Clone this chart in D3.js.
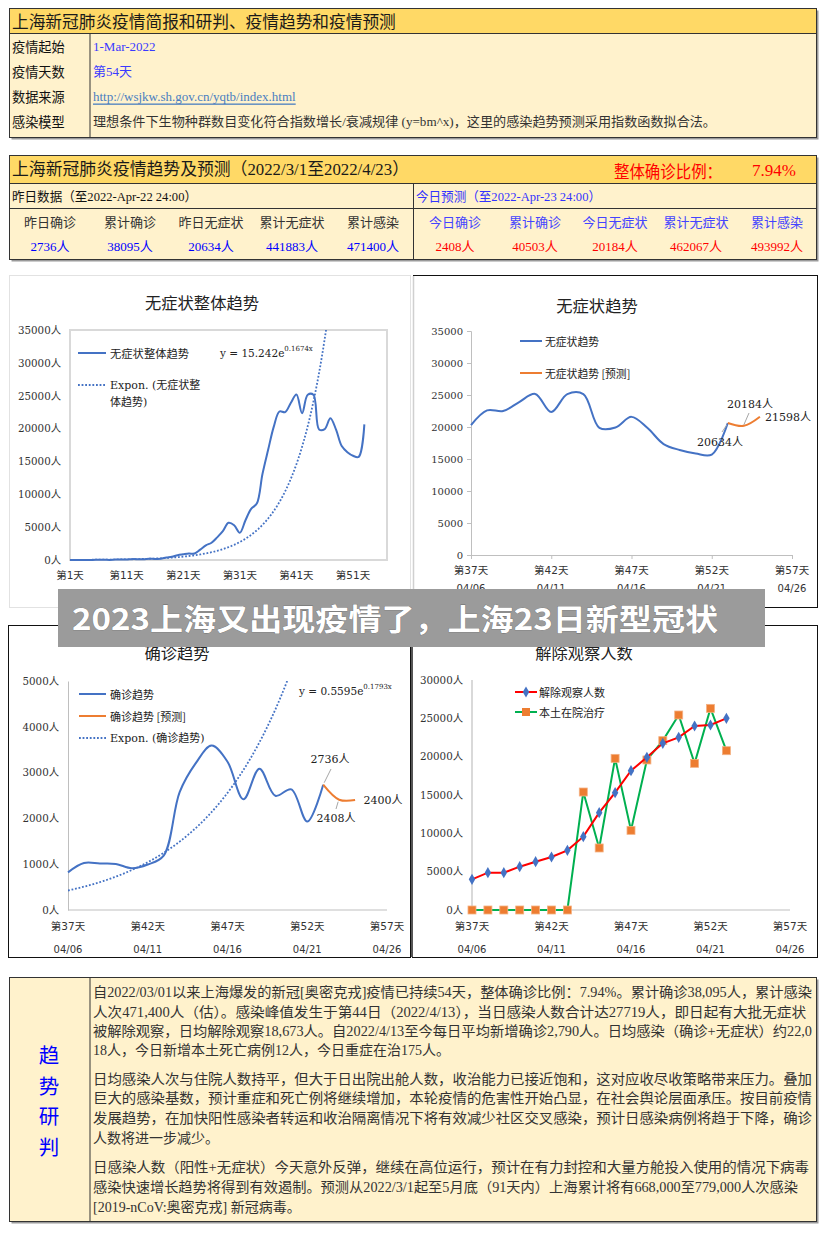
<!DOCTYPE html>
<html><head><meta charset="utf-8">
<script src="https://cdn.jsdelivr.net/npm/d3@7"></script>
<style>body{margin:0;background:#fff}svg{display:block}</style>
</head><body><svg id="c" width="822" height="1236"></svg>
<script>
// ---------------- DATA ----------------
const infoLabels = ["疫情起始","疫情天数","数据来源","感染模型"];
const infoValues = ["1-Mar-2022","第54天","http://wsjkw.sh.gov.cn/yqtb/index.html","理想条件下生物种群数目变化符合指数增长/衰减规律 (y=bm^x)，这里的感染趋势预测采用指数函数拟合法。"];
const yesterdayLabels = ["昨日确诊","累计确诊","昨日无症状","累计无症状","累计感染"];
const yesterdayValues = ["2736人","38095人","20634人","441883人","471400人"];
const todayLabels = ["今日确诊","累计确诊","今日无症状","累计无症状","累计感染"];
const todayValues = ["2408人","40503人","20184人","462067人","493992人"];

// chart 1: asymptomatic, day 1..53
const asymAll = [2,8,5,16,2,45,51,14,62,76,64,130,128,130,197,150,203,366,492,734,865,977,979,1580,2231,2631,3450,4381,5656,5298,4144,6051,7788,8581,13086,16766,20300,22600,22500,23900,25173,22348,25141,25146,19872,19923,21582,19831,17332,16407,15861,15698,20634];
const asymFit = {a:15.242, b:0.1674};
const c1Ticks = [1,11,21,31,41,51];
const c1YTicks = [0,5000,10000,15000,20000,25000,30000,35000];

// chart 2: asymptomatic recent, days 37..53 + forecast days 53..55
const recentDays = [37,38,39,40,41,42,43,44,45,46,47,48,49,50,51,52,53];
const asymRecent = [20300,22600,22500,23900,25173,22348,25141,25146,19872,19923,21582,19831,17332,16407,15861,15698,20634];
const forecastDays = [53,54,55];
const asymForecast = [20634,20184,21598];
const dayTicks = [37,42,47,52,57];
const dateLabels = ["04/06","04/11","04/16","04/21","04/26"];

// chart 3: confirmed
const confRecent = [822,1025,1015,1006,914,994,1189,2573,3200,3590,3238,2417,3084,2494,2634,1931,2736];
const confForecast = [2736,2408,2400];
const confFit = {a:0.5595, b:0.1793};
const c3YTicks = [0,1000,2000,3000,4000,5000];

// chart 4: released / hospitalised
const released = [4000,4870,4870,5650,6300,6910,7780,9565,12700,15300,18170,19910,21740,22520,24000,24130,25000];
const hospital = [0,0,0,0,0,0,0,15390,8090,19780,10390,19570,22090,25435,19130,26300,20780];
const c4YTicks = [0,5000,10000,15000,20000,25000,30000];

const sideChars = ["趋","势","研","判"];
const para1 = ["自2022/03/01以来上海爆发的新冠[奥密克戎]疫情已持续54天，整体确诊比例：7.94%。累计确诊38,095人，累计感染",
"人次471,400人（估）。感染峰值发生于第44日（2022/4/13），当日感染人数合计达27719人，即日起有大批无症状",
"被解除观察，日均解除观察18,673人。自2022/4/13至今每日平均新增确诊2,790人。日均感染（确诊+无症状）约22,0",
"18人，今日新增本土死亡病例12人，今日重症在治175人。"];
const para2 = ["日均感染人次与住院人数持平，但大于日出院出舱人数，收治能力已接近饱和，这对应收尽收策略带来压力。叠加",
"巨大的感染基数，预计重症和死亡例将继续增加，本轮疫情的危害性开始凸显，在社会舆论层面承压。按目前疫情",
"发展趋势，在加快阳性感染者转运和收治隔离情况下将有效减少社区交叉感染，预计日感染病例将趋于下降，确诊",
"人数将进一步减少。"];
const para3 = ["日感染人数（阳性+无症状）今天意外反弹，继续在高位运行，预计在有力封控和大量方舱投入使用的情况下病毒",
"感染快速增长趋势将得到有效遏制。预测从2022/3/1起至5月底（91天内）上海累计将有668,000至779,000人次感染",
"[2019-nCoV:奥密克戎] 新冠病毒。"];

// ---------------- HELPERS ----------------
const svg = d3.select("#c");
const SERIF = "'Liberation Serif','Noto Sans CJK SC',serif";
const AXSERIF = "'DejaVu Serif','Noto Sans CJK SC',serif";
const AXSANS = "'DejaVu Sans','Noto Sans CJK SC',sans-serif";
const CJK = "'Noto Sans CJK SC',sans-serif";
const BLUE = "#4472C4", ORANGE = "#ED7D31";

function txt(g, x, y, s, o = {}) {
  const t = g.append("text").attr("x", x).attr("y", y).text(s)
    .attr("font-family", o.ff || SERIF).attr("font-size", o.fs || 13)
    .attr("fill", o.fill || "#222").attr("dominant-baseline", "central")
    .attr("text-anchor", o.anchor || "start");
  if (o.fw) t.attr("font-weight", o.fw);
  if (o.tl) t.attr("textLength", o.tl).attr("lengthAdjust", "spacingAndGlyphs");
  if (o.deco) t.attr("text-decoration", o.deco);
  return t;
}
function line(g, x1, y1, x2, y2, c, w) {
  return g.append("line").attr("x1", x1).attr("y1", y1).attr("x2", x2).attr("y2", y2)
    .attr("stroke", c).attr("stroke-width", w || 1);
}
function panel(x, y, w, h, titleH) {
  const g = svg.append("g");
  g.append("rect").attr("x", x + 2).attr("y", y + 2).attr("width", w).attr("height", h).attr("fill", "#9a9a9a");
  g.append("rect").attr("x", x).attr("y", y).attr("width", w).attr("height", h).attr("fill", "#FFF2CC").attr("stroke", "#333").attr("stroke-width", 1);
  if (titleH) {
    g.append("rect").attr("x", x).attr("y", y).attr("width", w).attr("height", titleH).attr("fill", "#FFD966").attr("stroke", "#333").attr("stroke-width", 1);
  }
  return g;
}

// ---------------- PANEL 1 ----------------
{
  const g = panel(9.5, 8.5, 807, 129, 25);
  txt(g, 12, 21, "上海新冠肺炎疫情简报和研判、疫情趋势和疫情预测", {ff: CJK, fs: 16.7, fill: "#1a1a1a"});
  line(g, 90, 33.5, 90, 137.5, "#333", 1);
  const ys = [46, 71, 96, 121];
  infoLabels.forEach((s, i) => txt(g, 12, ys[i], s, {ff: CJK, fs: 13.2, fill: "#111"}));
  txt(g, 93, ys[0], infoValues[0], {fs: 13, fill: "#3A3AFF"});
  txt(g, 93, ys[1], infoValues[1], {fs: 13, fill: "#3A3AFF"});
  txt(g, 93, ys[2], infoValues[2], {fs: 13, fill: "#4A7EC0", deco: "underline"});
  txt(g, 93, ys[3], infoValues[3], {fs: 13, fill: "#333", tl: 623});
}

// ---------------- PANEL 2 ----------------
{
  const g = panel(9.5, 155.5, 807, 104, 28);
  txt(g, 12, 169, "上海新冠肺炎疫情趋势及预测（2022/3/1至2022/4/23）", {fs: 17, fill: "#1a1a1a", tl: 397});
  txt(g, 614, 170, "整体确诊比例：", {ff: CJK, fs: 17, fill: "#FF0000", tl: 108});
  txt(g, 752, 170, "7.94%", {fs: 17, fill: "#FF0000"});
  line(g, 9.5, 208.5, 816.5, 208.5, "#333", 1);
  line(g, 413.5, 183.5, 413.5, 259.5, "#333", 1);
  txt(g, 12, 196, "昨日数据（至2022-Apr-22 24:00）", {fs: 13, fill: "#111", tl: 185});
  txt(g, 416, 196, "今日预测（至2022-Apr-23 24:00）", {fs: 13, fill: "#3333FF", tl: 185});
  const lx = [50, 130, 211, 292, 373], rx = [455, 535, 615, 696, 777];
  yesterdayLabels.forEach((s, i) => txt(g, lx[i], 221, s, {ff: CJK, fs: 13, fill: "#333", anchor: "middle"}));
  yesterdayValues.forEach((s, i) => txt(g, lx[i], 246, s, {fs: 13, fill: "#0000FF", anchor: "middle"}));
  todayLabels.forEach((s, i) => txt(g, rx[i], 221, s, {ff: CJK, fs: 13, fill: "#4444FF", anchor: "middle"}));
  todayValues.forEach((s, i) => txt(g, rx[i], 246, s, {fs: 13, fill: "#FF0000", anchor: "middle"}));
}

// ---------------- CHART FRAMES ----------------
svg.append("rect").attr("x", 9.5).attr("y", 275.5).attr("width", 401).attr("height", 332).attr("fill", "#fff").attr("stroke", "#e2e2e2");
svg.append("rect").attr("x", 413.5).attr("y", 275.5).attr("width", 404).attr("height", 332).attr("fill", "#fff").attr("stroke", "#111");
line(svg, 413.5, 276, 413.5, 607, "#d0d0d0", 1.5);
svg.append("rect").attr("x", 8.5).attr("y", 625.5).attr("width", 402).attr("height", 332).attr("fill", "#fff").attr("stroke", "#111");
svg.append("rect").attr("x", 412.5).attr("y", 625.5).attr("width", 405).attr("height", 332).attr("fill", "#fff").attr("stroke", "#111");
line(svg, 412, 626, 412, 957, "#555", 2);

function clip(id, x, y, w, h) {
  svg.append("clipPath").attr("id", id).append("rect").attr("x", x).attr("y", y).attr("width", w).attr("height", h);
}
function legendLine(g, x1, x2, y, color, dash) {
  const l = line(g, x1, y, x2, y, color, 2);
  if (dash) l.attr("stroke-dasharray", dash);
}
function equation(g, x, y, base, sup) {
  const t = g.append("text").attr("x", x).attr("y", y).attr("font-family", AXSERIF).attr("font-size", 10.5).attr("fill", "#222").attr("dominant-baseline", "central");
  t.append("tspan").text(base);
  t.append("tspan").text(sup).attr("font-size", 7).attr("dy", -4);
}

// ---------------- CHART 1 ----------------
{
  const g = svg.append("g");
  const x = d3.scaleLinear().domain([1, 57]).range([70, 387]);
  const y = d3.scaleLinear().domain([0, 35000]).range([560, 330]);
  txt(g, 202, 302, "无症状整体趋势", {ff: CJK, fs: 16.3, fill: "#222", anchor: "middle"});
  g.append("rect").attr("x", 70).attr("y", 330).attr("width", 317).attr("height", 230).attr("fill", "none").attr("stroke", "#d9d9d9").attr("stroke-width", 2);
  const ya = g.append("g").attr("transform", "translate(70,0)")
    .call(d3.axisLeft(y).tickValues(c1YTicks).tickSize(0).tickPadding(9).tickFormat(d => d + "人"));
  ya.select(".domain").remove();
  ya.selectAll("text").attr("font-family", AXSERIF).attr("font-size", 10.3).attr("fill", "#333");
  c1Ticks.forEach(d => txt(g, x(d), 575, "第" + d + "天", {ff: AXSANS, fs: 10.5, fill: "#333", anchor: "middle"}));
  clip("cp1", 70, 330, 317, 230);
  const trend = d3.range(1, 53.01, 0.25).map(t => [t, asymFit.a * Math.exp(asymFit.b * t)]);
  g.append("path").attr("clip-path", "url(#cp1)").attr("d", d3.line().x(d => x(d[0])).y(d => y(d[1]))(trend))
    .attr("fill", "none").attr("stroke", BLUE).attr("stroke-width", 1.8).attr("stroke-dasharray", "1.8,1.8");
  g.append("path").attr("d", d3.line().x((d, i) => x(i + 1)).y(d => y(d)).curve(d3.curveCatmullRom)(asymAll))
    .attr("fill", "none").attr("stroke", BLUE).attr("stroke-width", 2);
  legendLine(g, 78, 106, 353, BLUE);
  txt(g, 110, 353, "无症状整体趋势", {ff: CJK, fs: 11.3, fill: "#222"});
  equation(g, 220, 353, "y = 15.242e", "0.1674x");
  legendLine(g, 78, 106, 385, BLUE, "1.8,1.8");
  txt(g, 110, 385, "Expon. (无症状整", {ff: AXSERIF, fs: 11, fill: "#222"});
  txt(g, 110, 402, "体趋势)", {ff: AXSERIF, fs: 11, fill: "#222"});
}

function dayAxis(g, x, yLab1, yLab2) {
  dayTicks.forEach((d, i) => {
    txt(g, x(d), yLab1, "第" + d + "天", {ff: AXSANS, fs: 10.5, fill: "#333", anchor: "middle"});
    txt(g, x(d), yLab2, dateLabels[i], {ff: AXSANS, fs: 10, fill: "#333", anchor: "middle"});
  });
}

// ---------------- CHART 2 ----------------
{
  const g = svg.append("g");
  const x = d3.scaleLinear().domain([37, 57]).range([471, 792]);
  const y = d3.scaleLinear().domain([0, 35000]).range([555, 331]);
  txt(g, 597, 305, "无症状趋势", {ff: CJK, fs: 16.3, fill: "#222", anchor: "middle"});
  const ya = g.append("g").attr("transform", "translate(471,0)")
    .call(d3.axisLeft(y).tickValues(c1YTicks).tickSize(4).tickPadding(4).tickFormat(d3.format("d")));
  ya.selectAll("path,line").attr("stroke", "#bfbfbf");
  ya.selectAll("text").attr("font-family", AXSERIF).attr("font-size", 10).attr("fill", "#333");
  const xa = g.append("g").attr("transform", "translate(0,555)")
    .call(d3.axisBottom(x).tickValues(dayTicks).tickSize(4).tickFormat(""));
  xa.selectAll("path,line").attr("stroke", "#bfbfbf");
  dayAxis(g, x, 570, 588);
  const ln = d3.line().x(d => x(d[0])).y(d => y(d[1])).curve(d3.curveCatmullRom);
  g.append("path").attr("d", ln(d3.zip(recentDays, asymRecent))).attr("fill", "none").attr("stroke", BLUE).attr("stroke-width", 2);
  g.append("path").attr("d", ln(d3.zip(forecastDays, asymForecast))).attr("fill", "none").attr("stroke", ORANGE).attr("stroke-width", 2);
  legendLine(g, 520, 542, 341, BLUE);
  txt(g, 545, 341, "无症状趋势", {ff: CJK, fs: 10.8, fill: "#222"});
  legendLine(g, 520, 542, 373, ORANGE);
  txt(g, 545, 373, "无症状趋势 [预测]", {ff: CJK, fs: 10.8, fill: "#222"});
  // annotations
  line(g, 722, 432, x(53) - 1, y(asymForecast[0]) + 2, "#a6a6a6", 1);
  txt(g, 720, 442, asymForecast[0] + "人", {ff: AXSERIF, fs: 11, fill: "#222", anchor: "middle"});
  line(g, 749, 413, x(54), y(asymForecast[1]) - 1, "#a6a6a6", 1);
  txt(g, 750, 404, asymForecast[1] + "人", {ff: AXSERIF, fs: 11, fill: "#222", anchor: "middle"});
  txt(g, 788, 417, asymForecast[2] + "人", {ff: AXSERIF, fs: 11, fill: "#222", anchor: "middle"});
}

// ---------------- CHART 3 ----------------
{
  const g = svg.append("g");
  const x = d3.scaleLinear().domain([37, 57]).range([68, 387]);
  const y = d3.scaleLinear().domain([0, 5000]).range([910, 681]);
  txt(g, 177, 652, "确诊趋势", {ff: CJK, fs: 16.3, fill: "#222", anchor: "middle"});
  const ya = g.append("g").attr("transform", "translate(68,0)")
    .call(d3.axisLeft(y).tickValues(c3YTicks).tickSize(0).tickPadding(9).tickFormat(d => d + "人"));
  ya.selectAll("path").attr("stroke", "#bfbfbf");
  ya.selectAll("text").attr("font-family", AXSERIF).attr("font-size", 10.3).attr("fill", "#333");
  line(g, 68, 910, 387, 910, "#bfbfbf", 1);
  dayAxis(g, x, 926, 949);
  clip("cp3", 68, 681, 330, 229);
  const trend = d3.range(37, 53.01, 0.2).map(t => [t, confFit.a * Math.exp(confFit.b * t)]);
  g.append("path").attr("clip-path", "url(#cp3)").attr("d", d3.line().x(d => x(d[0])).y(d => y(d[1]))(trend))
    .attr("fill", "none").attr("stroke", BLUE).attr("stroke-width", 1.8).attr("stroke-dasharray", "1.8,1.8");
  const ln = d3.line().x(d => x(d[0])).y(d => y(d[1])).curve(d3.curveCatmullRom);
  g.append("path").attr("d", ln(d3.zip(recentDays, confRecent))).attr("fill", "none").attr("stroke", BLUE).attr("stroke-width", 2);
  g.append("path").attr("d", ln(d3.zip(forecastDays, confForecast))).attr("fill", "none").attr("stroke", ORANGE).attr("stroke-width", 2);
  legendLine(g, 79, 106, 694, BLUE);
  txt(g, 110, 694, "确诊趋势", {ff: CJK, fs: 11, fill: "#222"});
  legendLine(g, 79, 106, 716, ORANGE);
  txt(g, 110, 716, "确诊趋势 [预测]", {ff: CJK, fs: 11, fill: "#222"});
  legendLine(g, 79, 106, 738, BLUE, "1.8,1.8");
  txt(g, 110, 738, "Expon. (确诊趋势)", {ff: AXSERIF, fs: 11, fill: "#222"});
  equation(g, 299, 691, "y = 0.5595e", "0.1793x");
  line(g, 331, 769, x(53) + 1, y(confForecast[0]) - 2, "#a6a6a6", 1);
  txt(g, 330, 759, confForecast[0] + "人", {ff: AXSERIF, fs: 11, fill: "#222", anchor: "middle"});
  line(g, 336, 809, x(54) - 1, y(confForecast[1]) + 2, "#a6a6a6", 1);
  txt(g, 336, 818, confForecast[1] + "人", {ff: AXSERIF, fs: 11, fill: "#222", anchor: "middle"});
  txt(g, 383, 800, confForecast[2] + "人", {ff: AXSERIF, fs: 11, fill: "#222", anchor: "middle"});
}

// ---------------- CHART 4 ----------------
{
  const g = svg.append("g");
  const x = d3.scaleLinear().domain([37, 57]).range([472, 790]);
  const y = d3.scaleLinear().domain([0, 30000]).range([910, 680]);
  txt(g, 584, 652, "解除观察人数", {ff: CJK, fs: 16.3, fill: "#222", anchor: "middle"});
  line(g, 472, 680, 472, 910, "#d9d9d9", 2);
  line(g, 472, 910, 790, 910, "#bfbfbf", 1);
  const ya = g.append("g").attr("transform", "translate(472,0)")
    .call(d3.axisLeft(y).tickValues(c4YTicks).tickSize(0).tickPadding(9).tickFormat(d => d + "人"));
  ya.select(".domain").remove();
  ya.selectAll("text").attr("font-family", AXSERIF).attr("font-size", 10.3).attr("fill", "#333");
  dayAxis(g, x, 926, 949);
  const ln = d3.line().x(d => x(d[0])).y(d => y(d[1]));
  const hd = d3.zip(recentDays, hospital), rd = d3.zip(recentDays, released);
  g.append("path").attr("d", ln(hd)).attr("fill", "none").attr("stroke", "#00B050").attr("stroke-width", 2);
  g.selectAll("rect.sq").data(hd).join("rect").attr("class", "sq")
    .attr("x", d => x(d[0]) - 4).attr("y", d => y(d[1]) - 4).attr("width", 8).attr("height", 8)
    .attr("fill", ORANGE).attr("stroke", "#f4b183").attr("stroke-width", 0.8);
  g.append("path").attr("d", ln(rd)).attr("fill", "none").attr("stroke", "#FF0000").attr("stroke-width", 2);
  const dia = d3.symbol().type(d3.symbolDiamond).size(36);
  g.selectAll("path.dm").data(rd).join("path").attr("class", "dm")
    .attr("transform", d => `translate(${x(d[0])},${y(d[1])})`).attr("d", dia).attr("fill", BLUE);
  line(g, 515, 692, 537, 692, "#FF0000", 2);
  g.append("path").attr("transform", "translate(526,692)").attr("d", dia).attr("fill", BLUE);
  txt(g, 539, 692, "解除观察人数", {ff: CJK, fs: 11, fill: "#222"});
  line(g, 515, 712, 537, 712, "#00B050", 2);
  g.append("rect").attr("x", 522).attr("y", 708).attr("width", 8).attr("height", 8).attr("fill", ORANGE);
  txt(g, 539, 712, "本土在院治疗", {ff: CJK, fs: 11, fill: "#222"});
}

// ---------------- BOTTOM PANEL ----------------
{
  const g = panel(9.5, 977.5, 807, 244, 0);
  line(g, 90, 977.5, 90, 1221.5, "#333", 1);
  sideChars.forEach((c, i) => txt(g, 49, 1054 + i * 30.7, c, {ff: CJK, fs: 20.5, fill: "#0000FF", anchor: "middle"}));
  const opt = {fs: 14, fill: "#333"};
  const p1y = [992, 1012, 1031, 1050], p2y = [1079, 1098, 1118, 1138], p3y = [1167, 1187, 1207];
  const full = 719;
  para1.forEach((s, i) => txt(g, 93, p1y[i], s, Object.assign({}, opt, i < 3 ? {tl: i === 1 ? 713 : full} : {})));
  para2.forEach((s, i) => txt(g, 93, p2y[i], s, Object.assign({}, opt, i < 3 ? {tl: full} : {})));
  para3.forEach((s, i) => txt(g, 93, p3y[i], s, Object.assign({}, opt, i < 2 ? {tl: i === 0 ? 716 : 705} : {})));
}

// ---------------- BANNER ----------------
{
  const g = svg.append("g");
  g.append("rect").attr("x", 58).attr("y", 589).attr("width", 707).attr("height", 58).attr("fill", "#9b9b9b");
  txt(g, 72, 617, "2023上海又出现疫情了，上海23日新型冠状", {ff: CJK, fs: 30, fw: "bold", fill: "#fff", tl: 646})
    .attr("stroke", "#6a6a6a").attr("stroke-width", 0.6).attr("paint-order", "stroke");
}
</script></body></html>
